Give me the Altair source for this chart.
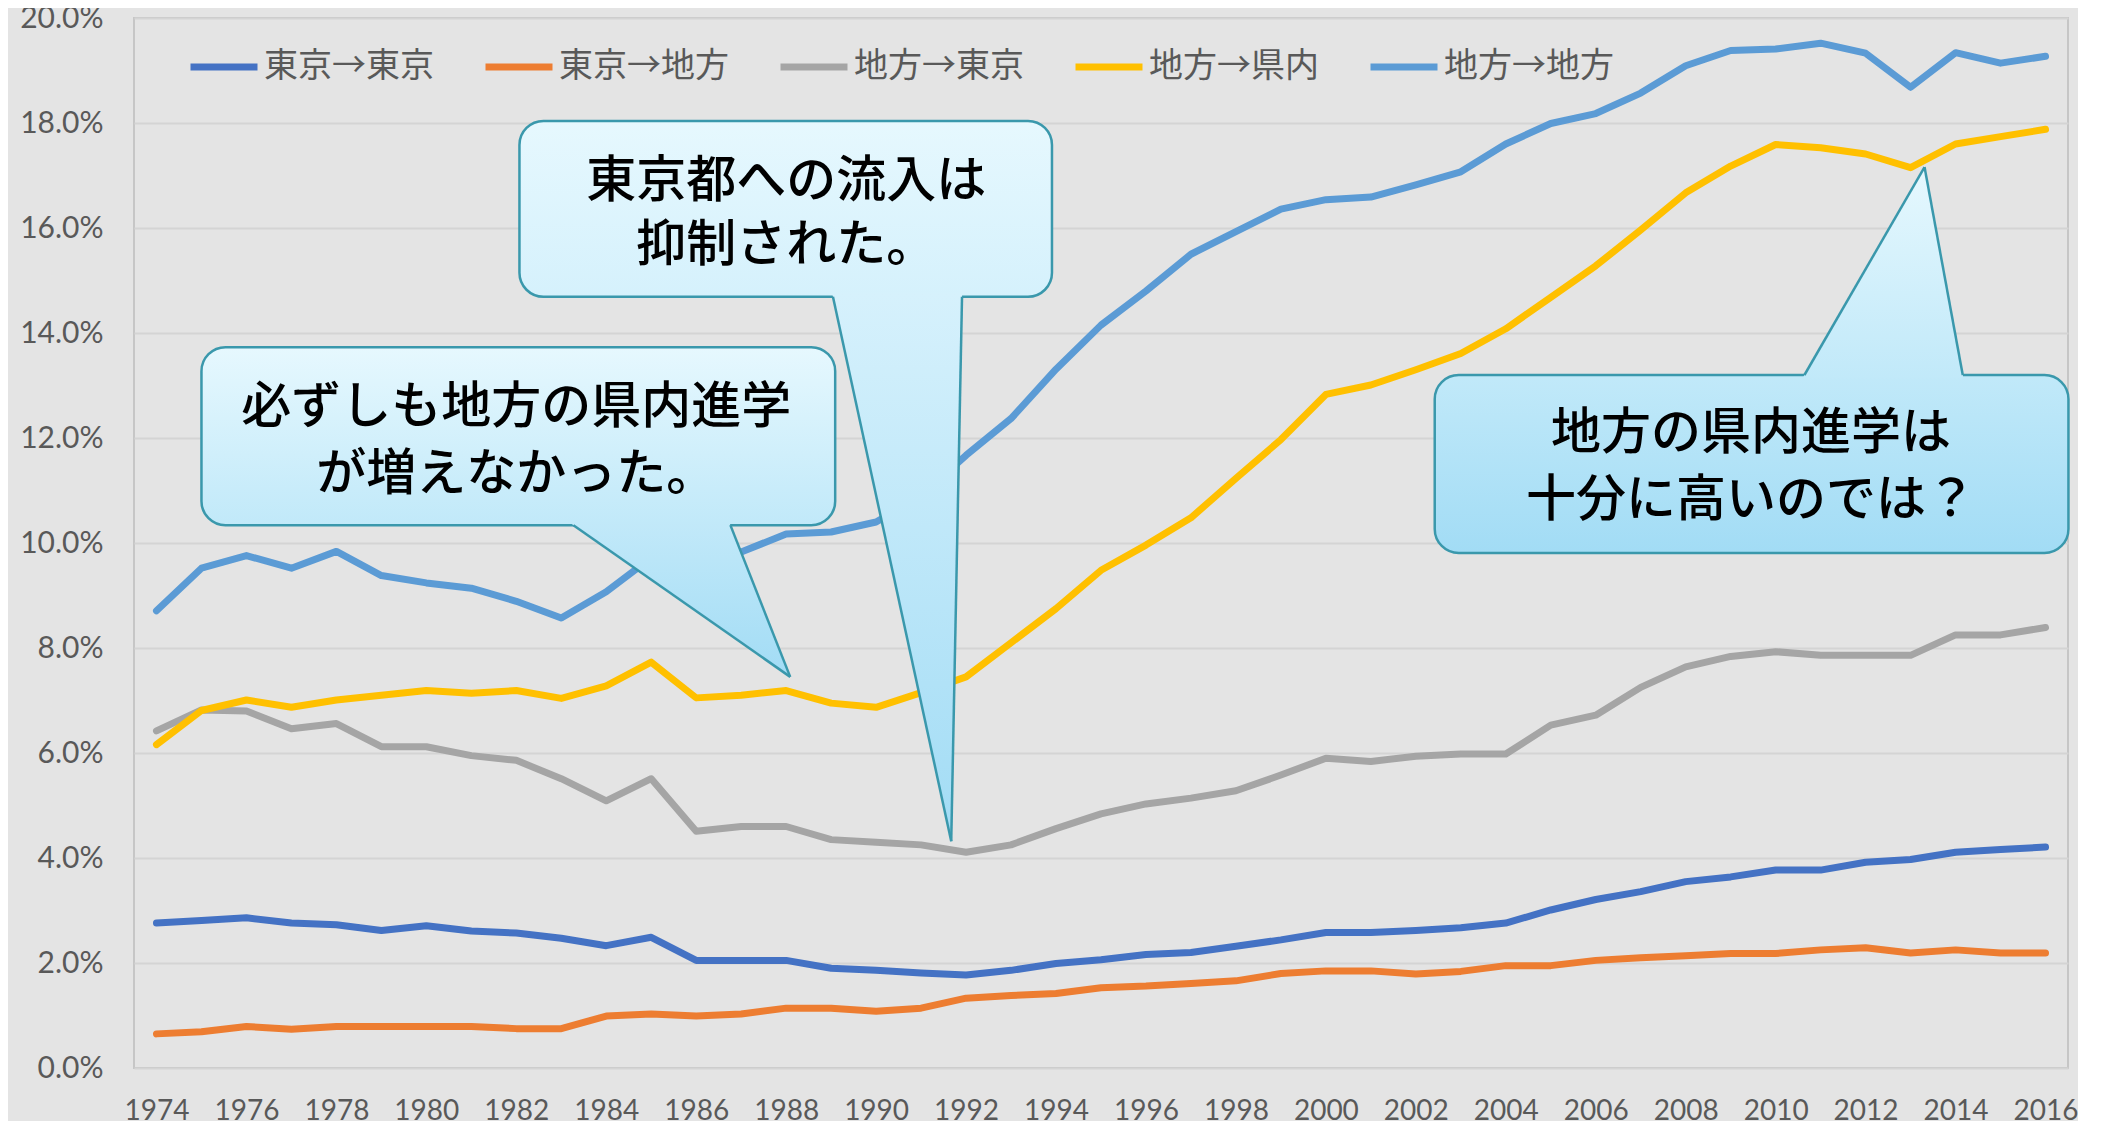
import altair as alt
import pandas as pd

# ---------------- data ----------------
years = list(range(1974, 2017))
series_names = ["東京→東京", "東京→地方", "地方→東京", "地方→県内", "地方→地方"]
series_colors = ["#4472C4", "#ED7D31", "#A5A5A5", "#FFC000", "#5B9BD5"]

tokyo_tokyo = [2.76, 2.81, 2.86, 2.76, 2.73, 2.62, 2.71, 2.61, 2.57, 2.47, 2.33, 2.49, 2.05, 2.05, 2.05,
               1.90, 1.86, 1.81, 1.77, 1.86,
               1.99, 2.06, 2.16, 2.20, 2.32, 2.44, 2.58, 2.58, 2.62, 2.67, 2.76, 3.01, 3.21, 3.36, 3.55,
               3.64, 3.77, 3.77, 3.92, 3.97, 4.11, 4.16, 4.21]
tokyo_chiho = [0.65, 0.69, 0.79, 0.74, 0.79, 0.79, 0.79, 0.79, 0.75, 0.75, 0.99, 1.03, 0.99, 1.03, 1.14,
               1.14, 1.08, 1.14, 1.33, 1.38,
               1.42, 1.53, 1.56, 1.61, 1.66, 1.80, 1.85, 1.85, 1.79, 1.84, 1.95, 1.95, 2.05, 2.10, 2.14,
               2.18, 2.18, 2.25, 2.29, 2.19, 2.25, 2.19, 2.19]
chiho_tokyo = [6.42, 6.82, 6.80, 6.46, 6.56, 6.12, 6.12, 5.95, 5.86, 5.51, 5.09, 5.51, 4.51, 4.60, 4.60,
               4.35, 4.30, 4.25, 4.11, 4.25,
               4.56, 4.84, 5.03, 5.14, 5.28, 5.58, 5.90, 5.84, 5.94, 5.98, 5.98, 6.53, 6.72, 7.25, 7.64,
               7.84, 7.93, 7.86, 7.86, 7.86, 8.25, 8.25, 8.39]
chiho_kennai = [6.16, 6.81, 7.01, 6.87, 7.01, 7.10, 7.19, 7.14, 7.19, 7.04, 7.28, 7.73, 7.05, 7.10, 7.19,
                6.95, 6.87, 7.15, 7.45, 8.10,
                8.75, 9.48, 9.96, 10.48, 11.23, 11.97, 12.83, 13.01, 13.30, 13.61, 14.08, 14.68, 15.28,
                15.96, 16.67, 17.18, 17.59, 17.53, 17.41, 17.15, 17.60, 17.74, 17.88]
chiho_chiho = [8.71, 9.52, 9.76, 9.52, 9.84, 9.38, 9.24, 9.14, 8.89, 8.57, 9.07, 9.72, 9.68, 9.83, 10.17,
               10.21, 10.40, 10.90, 11.67, 12.37,
               13.31, 14.15, 14.80, 15.50, 15.93, 16.36, 16.54, 16.59, 16.82, 17.07, 17.60, 17.99, 18.18,
               18.57, 19.09, 19.38, 19.41, 19.52, 19.33, 18.68, 19.34, 19.14, 19.27]

y_ticks = [0, 2, 4, 6, 8, 10, 12, 14, 16, 18, 20]
x_ticks = list(range(1974, 2017, 2))

# callout annotations (data units: year, percent)
callout_lines = [
    ["東京都への流入は", "抑制された。"],
    ["必ずしも地方の県内進学", "が増えなかった。"],
    ["地方の県内進学は", "十分に高いのでは？"],
]
box_x0 = [1982.07, 1975.00, 2002.42]
box_x1 = [1993.91, 1989.09, 2016.51]
box_ytop = [18.04, 13.73, 13.20]
box_ybot = [14.69, 10.34, 9.81]
tail_base_x0 = [1989.04, 1983.27, 2010.64]
tail_base_x1 = [1991.91, 1986.76, 2014.16]
tail_base_y = [14.69, 10.34, 13.20]
tail_tip_x = [1991.67, 1988.09, 2013.31]
tail_tip_y = [4.32, 7.45, 17.16]
text_x = [1988.0, 1982.0, 2009.45]
text_y = [[16.88, 15.66], [12.57, 11.30], [12.07, 10.80]]

# ---------------- build ----------------
all_series = [tokyo_tokyo, tokyo_chiho, chiho_tokyo, chiho_kennai, chiho_chiho]
rows = []
for name, vals in zip(series_names, all_series):
    for yr, v in zip(years, vals):
        rows.append({"year": yr, "value": v / 100.0, "series": name})
df = pd.DataFrame(rows)

xscale = alt.Scale(domain=[1973.5, 2016.5], nice=False, zero=False)
yscale = alt.Scale(domain=[0, 0.2], nice=False, zero=False)

lines = alt.Chart(df).mark_line(strokeWidth=7, strokeCap="round", strokeJoin="round").encode(
    x=alt.X("year:Q", scale=xscale, title=None,
            axis=alt.Axis(values=x_ticks, format="d", grid=False, labelFontSize=28,
                          labelPadding=29, labelFlush=False, labelOverlap=False)),
    y=alt.Y("value:Q", scale=yscale, title=None,
            axis=alt.Axis(values=[t / 100 for t in y_ticks], format=".1%", labelFontSize=30,
                          labelPadding=31)),
    color=alt.Color("series:N",
                    scale=alt.Scale(domain=series_names, range=series_colors),
                    sort=series_names,
                    legend=alt.Legend(orient="none", legendX=53, legendY=12, direction="horizontal",
                                      columns=5, title=None, symbolType="stroke", symbolSize=4489,
                                      symbolStrokeWidth=7, labelFont="Noto Sans CJK JP",
                                      labelFontSize=34, labelColor="#595959", labelOffset=3,
                                      columnPadding=37, padding=0, labelLimit=500)),
)

C_TOP = (0xE6, 0xF8, 0xFE)
C_BOT = (0xA2, 0xDC, 0xF5)
BORDER = "#3A98AC"


def mix(t):
    c = [round(a + (b - a) * t) for a, b in zip(C_TOP, C_BOT)]
    return "#%02x%02x%02x" % tuple(c)


def grad(t0, t1):
    return alt.Gradient(gradient="linear", x1=0, x2=0, y1=0, y2=1,
                        stops=[alt.GradientStop(color=mix(t0), offset=0),
                               alt.GradientStop(color=mix(t1), offset=1)])


layers = [lines]
for i in range(3):
    top = max(box_ytop[i], tail_tip_y[i])
    bot = min(box_ybot[i], tail_tip_y[i])
    span = top - bot
    fr = lambda v: (top - v) / span
    # box
    bdf = pd.DataFrame([{"x0": box_x0[i], "x1": box_x1[i], "y0": box_ytop[i] / 100, "y1": box_ybot[i] / 100}])
    layers.append(alt.Chart(bdf).mark_rect(cornerRadius=24, stroke=BORDER, strokeWidth=2.5,
                                           fill=grad(fr(box_ytop[i]), fr(box_ybot[i]))).encode(
        x=alt.X("x0:Q", scale=xscale), x2="x1:Q",
        y=alt.Y("y0:Q", scale=yscale), y2="y1:Q"))
    # tail: extend base slightly inside the box
    ext = 0.07 if tail_tip_y[i] < tail_base_y[i] else -0.07
    by = tail_base_y[i] + ext
    k = (by - tail_tip_y[i]) / (tail_base_y[i] - tail_tip_y[i])
    bx0 = tail_tip_x[i] + (tail_base_x0[i] - tail_tip_x[i]) * k
    bx1 = tail_tip_x[i] + (tail_base_x1[i] - tail_tip_x[i]) * k
    tdf = pd.DataFrame([
        {"y": by / 100, "xa": bx0, "xb": bx1},
        {"y": tail_tip_y[i] / 100, "xa": tail_tip_x[i], "xb": tail_tip_x[i]},
    ])
    t_top = fr(max(by, tail_tip_y[i]))
    t_bot = fr(min(by, tail_tip_y[i]))
    layers.append(alt.Chart(tdf).mark_area(orient="horizontal", fill=grad(t_top, t_bot),
                                           strokeWidth=0).encode(
        y=alt.Y("y:Q", scale=yscale), x=alt.X("xa:Q", scale=xscale), x2="xb:Q"))
    edf = pd.DataFrame([
        {"xa": tail_base_x0[i], "ya": tail_base_y[i] / 100, "xb": tail_tip_x[i], "yb": tail_tip_y[i] / 100},
        {"xa": tail_base_x1[i], "ya": tail_base_y[i] / 100, "xb": tail_tip_x[i], "yb": tail_tip_y[i] / 100},
    ])
    layers.append(alt.Chart(edf).mark_rule(color=BORDER, strokeWidth=2.5).encode(
        x=alt.X("xa:Q", scale=xscale), y=alt.Y("ya:Q", scale=yscale), x2="xb:Q", y2="yb:Q"))
    txdf = pd.DataFrame([{"x": text_x[i], "y": text_y[i][j] / 100, "t": callout_lines[i][j]}
                         for j in range(2)])
    layers.append(alt.Chart(txdf).mark_text(font="Noto Sans CJK JP", fontSize=50, fontWeight=500,
                                            color="#000000", align="center", baseline="middle").encode(
        x=alt.X("x:Q", scale=xscale), y=alt.Y("y:Q", scale=yscale), text="t:N"))

chart = alt.layer(*layers).properties(
    width=1934, height=1050,
    autosize=alt.AutoSizeParams(type="none"),
    padding={"left": 126, "top": 10, "right": 10, "bottom": 56},
    background="#e4e4e4",
).configure_view(
    fill="#e4e4e4", stroke="#c6c6c6", strokeWidth=2
).configure_axis(
    domain=False, ticks=False, tickSize=0, gridColor="#d4d4d4", gridWidth=2,
    labelColor="#595959", labelFont="Lato"
)

chart.save("out.html", embed_options={"renderer": "svg", "actions": False})
